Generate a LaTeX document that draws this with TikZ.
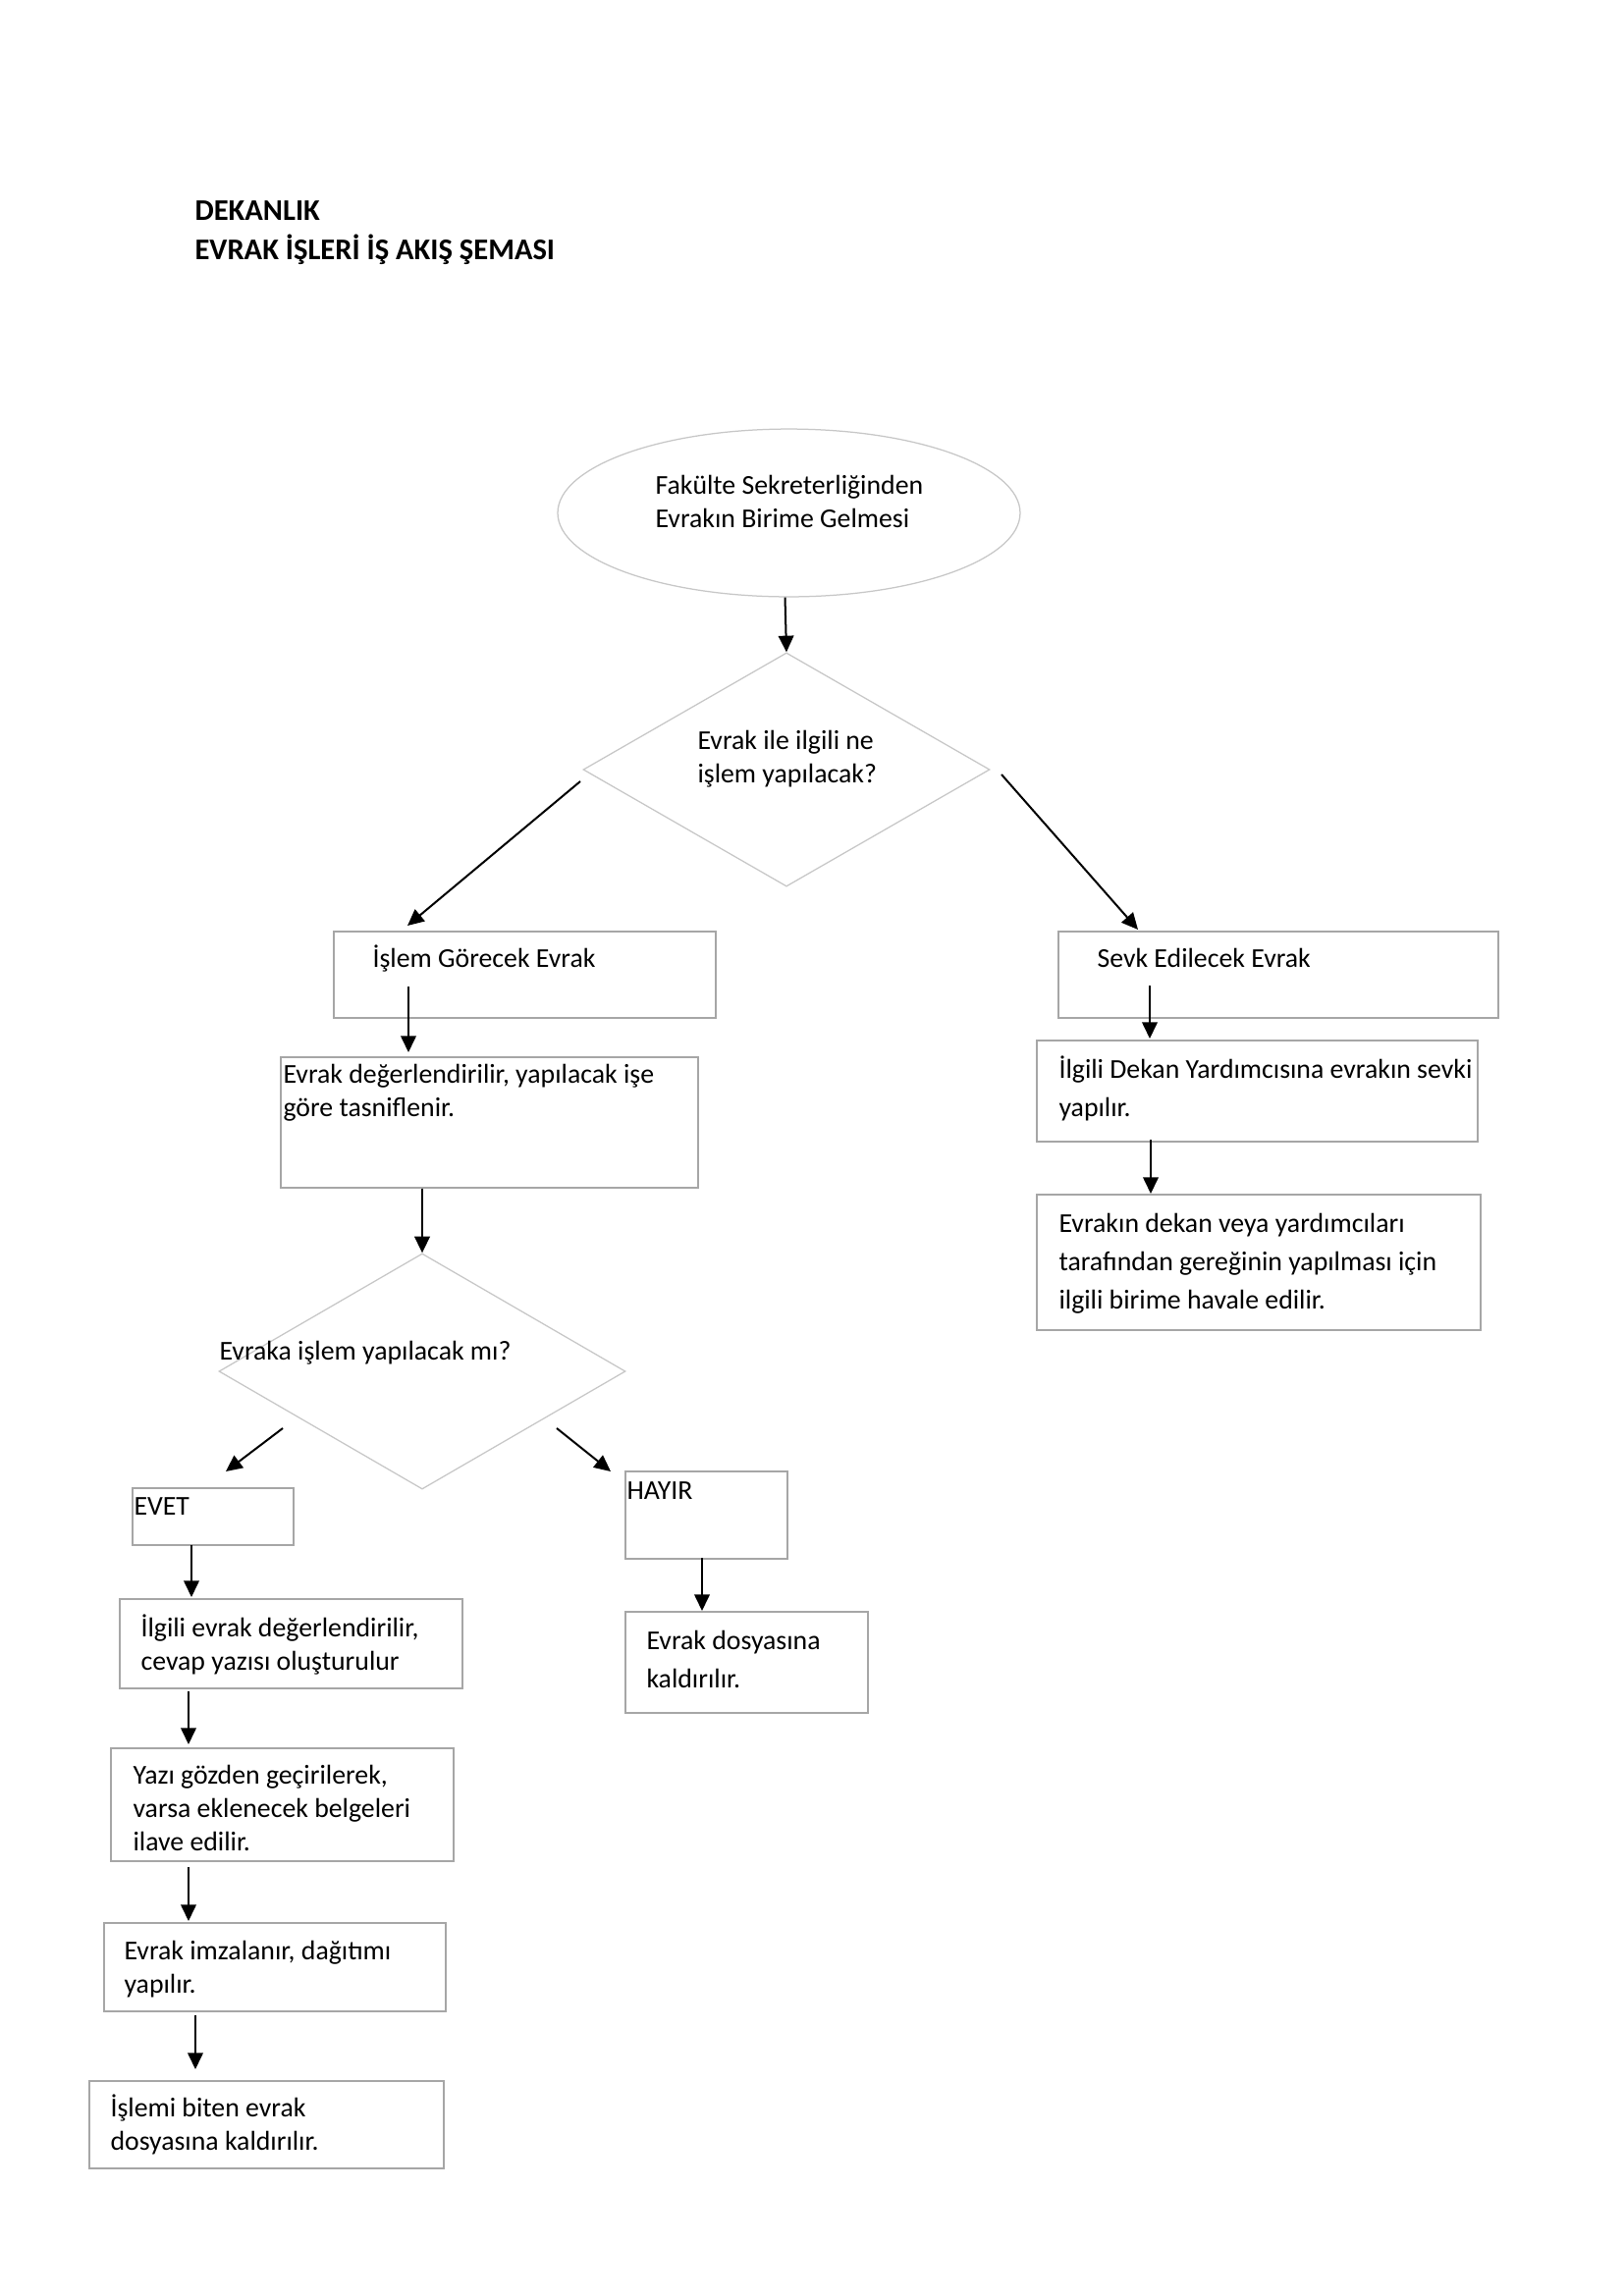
\documentclass[tikz,border=0pt]{standalone}
\usepackage{fontspec}
\setmainfont{Carlito}
\usetikzlibrary{shapes.geometric,fit,arrows.meta}
\newcommand\mytx[1]{\begin{tabular}[t]{@{}l@{}}#1\end{tabular}}
\begin{document}
\begin{tikzpicture}[x=0.3599pt,y=-0.3599pt,
  boxs/.style={draw=black!35,line width=0.45pt,inner sep=0pt},
  shp/.style={draw=black!22,line width=0.45pt,inner sep=0pt},
  arr/.style={line width=0.72pt,-{Triangle[length=6pt,width=5.6pt]}},
  txa/.style={anchor=base west,inner sep=0pt,font=\fontsize{10}{12.24}\selectfont},
  txb/.style={anchor=base west,inner sep=0pt,font=\fontsize{10}{14.04}\selectfont},
  ttl/.style={anchor=base west,inner sep=0pt,font=\fontsize{11}{14.4}\selectfont\bfseries}]
\useasboundingbox[fill=white] (0,0) rectangle (1654,2339);

% title
\node[ttl] (title) at (198,224) {\mytx{DEKANLIK\\EVRAK İŞLERİ İŞ AKIŞ ŞEMASI}};

% shapes
\node[shp,ellipse,minimum width=169.5pt,minimum height=61.5pt] (e) at (803.5,522.5) {};
\node[shp,diamond,minimum width=149pt,minimum height=85.7pt] (d1) at (801,784) {};
\node[shp,diamond,minimum width=149pt,minimum height=86.4pt] (d2) at (430,1397) {};

\node[boxs,fit={(340,949) (729,1037)}] (b1) {};
\node[boxs,fit={(286,1077) (711,1210)}] (b2) {};
\node[boxs,fit={(135,1516) (299,1574)}] (evet) {};
\node[boxs,fit={(637,1499) (802,1588)}] (hayir) {};
\node[boxs,fit={(122,1629) (471,1720)}] (b3) {};
\node[boxs,fit={(637,1642) (884,1745)}] (b4) {};
\node[boxs,fit={(113,1781) (462,1896)}] (b5) {};
\node[boxs,fit={(106,1959) (454,2049)}] (b6) {};
\node[boxs,fit={(91,2120) (452,2209)}] (b7) {};
\node[boxs,fit={(1078,949) (1526,1037)}] (r1) {};
\node[boxs,fit={(1056,1060) (1505,1163)}] (r2) {};
\node[boxs,fit={(1056,1217) (1508,1355)}] (r3) {};

% texts
\node[txa] (te) at (667,503) {\mytx{Fakülte Sekreterliğinden\\Evrakın Birime Gelmesi}};
\node[txa] (td1) at (710,763) {\mytx{Evrak ile ilgili ne\\işlem yapılacak?}};
\node[txa] (td2) at (223,1385) {Evraka işlem yapılacak mı?};
\node[txa] (tb1) at (379,985) {İşlem Görecek Evrak};
\node[txa] (tb2) at (288,1103) {\mytx{Evrak değerlendirilir, yapılacak işe\\göre tasniflenir.}};
\node[txa] (tevet) at (136,1543) {EVET};
\node[txa] (thayir) at (638,1527) {HAYIR};
\node[txa] (tb3) at (143,1667) {\mytx{İlgili evrak değerlendirilir,\\cevap yazısı oluşturulur}};
\node[txb] (tb4) at (658,1680) {\mytx{Evrak dosyasına\\kaldırılır.}};
\node[txa] (tb5) at (135,1817) {\mytx{Yazı gözden geçirilerek,\\varsa eklenecek belgeleri\\ilave edilir.}};
\node[txa] (tb6) at (126,1996) {\mytx{Evrak imzalanır, dağıtımı\\yapılır.}};
\node[txa] (tb7) at (112,2156) {\mytx{İşlemi biten evrak\\dosyasına kaldırılır.}};
\node[txa] (tr1) at (1117,985) {Sevk Edilecek Evrak};
\node[txb] (tr2) at (1078,1098) {\mytx{İlgili Dekan Yardımcısına evrakın sevki\\yapılır.}};
\node[txb] (tr3) at (1078,1255) {\mytx{Evrakın dekan veya yardımcıları\\tarafından gereğinin yapılması için\\ilgili birime havale edilir.}};

% arrow end coordinates
\coordinate (a1s) at (591,796);  \coordinate (a1e) at (415,943);
\coordinate (a2s) at (1020,789); \coordinate (a2e) at (1159,947);
\coordinate (a3s) at (416,1005); \coordinate (a3e) at (416,1072);
\coordinate (a5s) at (288,1455); \coordinate (a5e) at (230,1499);
\coordinate (a6s) at (567,1455); \coordinate (a6e) at (622,1499);
\coordinate (a7s) at (195,1574); \coordinate (a7e) at (195,1627);
\coordinate (a8s) at (715,1587); \coordinate (a8e) at (715,1641);
\coordinate (a9s) at (192,1723); \coordinate (a9e) at (192,1777);
\coordinate (a10s) at (192,1902); \coordinate (a10e) at (192,1957);
\coordinate (a11s) at (199,2053); \coordinate (a11e) at (199,2108);
\coordinate (a12s) at (1171,1004); \coordinate (a12e) at (1171,1058);
\coordinate (a13s) at (1172,1161); \coordinate (a13e) at (1172,1216);

% arrows
\draw[arr] (e.south) ++(-4,0) -- (d1.north);
\draw[arr] (a1s) -- (a1e);
\draw[arr] (a2s) -- (a2e);
\draw[arr] (a3s) -- (a3e);
\draw[arr] (d2.north |- b2.south) -- (d2.north);
\draw[arr] (a5s) -- (a5e);
\draw[arr] (a6s) -- (a6e);
\draw[arr] (a7s) -- (a7e);
\draw[arr] (a8s) -- (a8e);
\draw[arr] (a9s) -- (a9e);
\draw[arr] (a10s) -- (a10e);
\draw[arr] (a11s) -- (a11e);
\draw[arr] (a12s) -- (a12e);
\draw[arr] (a13s) -- (a13e);
\end{tikzpicture}
\end{document}
